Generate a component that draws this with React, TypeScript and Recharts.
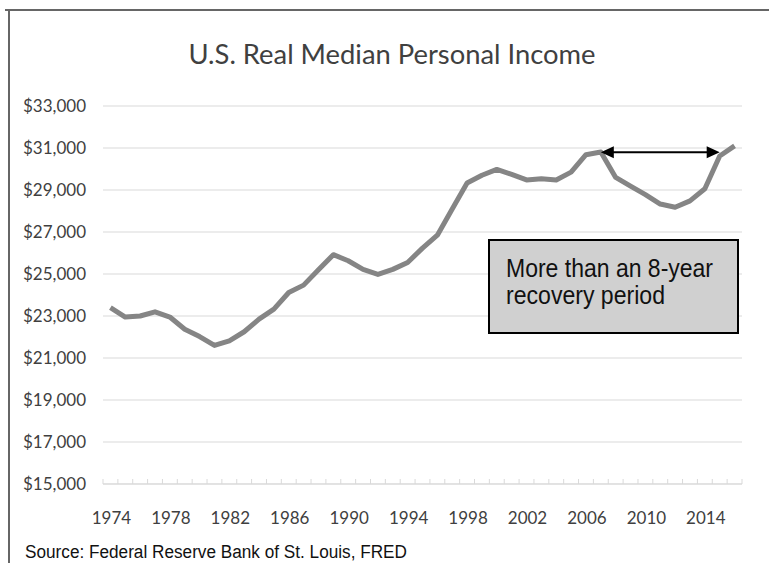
import { CartesianGrid, Line, LineChart, ReferenceLine, XAxis, YAxis } from "recharts"

const years = [
  1974, 1975, 1976, 1977, 1978, 1979, 1980, 1981, 1982, 1983, 1984, 1985, 1986, 1987, 1988,
  1989, 1990, 1991, 1992, 1993, 1994, 1995, 1996, 1997, 1998, 1999, 2000, 2001, 2002, 2003,
  2004, 2005, 2006, 2007, 2008, 2009, 2010, 2011, 2012, 2013, 2014, 2015, 2016,
]

const income = [
  23400, 22950, 23000, 23200, 22950, 22370, 22020, 21600, 21820, 22250, 22850, 23330, 24120,
  24470, 25200, 25920, 25630, 25220, 24980, 25220, 25550, 26230, 26850, 28100, 29330, 29700,
  29980, 29740, 29480, 29540, 29480, 29850, 30680, 30810, 29600, 29180, 28780, 28330, 28180,
  28480, 29060, 30620, 31100,
]

const yTicks = [15000, 17000, 19000, 21000, 23000, 25000, 27000, 29000, 31000, 33000]
const yearLabels = [1974, 1978, 1982, 1986, 1990, 1994, 1998, 2002, 2006, 2010, 2014]

// recovery arrow
const recoveryStart = 2007
const recoveryEnd = 2015
const recoveryLevel = 30800

const data = years.map((year, i) => ({ year, income: income[i] }))

const W = 769
const H = 563
const margin = { top: 106, right: 27, bottom: 49, left: 0 }
const yAxisWidth = 103
const plotW = W - margin.left - margin.right - yAxisWidth
const step = plotW / years.length

const font = "Lato, 'Open Sans', sans-serif"
const textColor = "#404040"

function YearTick(props: any) {
  const { x, y, payload, index } = props
  const year = payload.value
  const last = index === years.length - 1
  return (
    <g>
      <line x1={x - step / 2} x2={x - step / 2} y1={y - 5} y2={y} stroke="#d9d9d9" />
      {last && <line x1={x + step / 2} x2={x + step / 2} y1={y - 5} y2={y} stroke="#d9d9d9" />}
      {yearLabels.includes(year) && (
        <text x={x + 1} y={y + 40} textAnchor="middle" fontFamily={font} fontSize={17} fill={textColor}>
          {year}
        </text>
      )}
    </g>
  )
}

function ArrowShape(props: any) {
  const { x1, y1, x2, y2 } = props
  const len = 13
  const half = 6
  return (
    <g>
      <line x1={x1 + len - 2} y1={y1} x2={x2 - len + 2} y2={y2} stroke="#000" strokeWidth={2} />
      <polygon points={`${x1},${y1} ${x1 + len},${y1 - half} ${x1 + len},${y1 + half}`} fill="#000" />
      <polygon points={`${x2},${y2} ${x2 - len},${y2 - half} ${x2 - len},${y2 + half}`} fill="#000" />
    </g>
  )
}

export default function App() {
  return (
    <div style={{ position: "fixed", left: 0, top: 0, width: W, height: H, background: "#fff" }}>
      <LineChart width={W} height={H} data={data} margin={margin}>
        <CartesianGrid vertical={false} stroke="#d9d9d9" />
        <XAxis
          dataKey="year"
          type="number"
          domain={[years[0] - 0.5, years[years.length - 1] + 0.5]}
          ticks={years}
          interval={0}
          height={30}
          tickSize={0}
          tickMargin={0}
          tickLine={false}
          axisLine={{ stroke: "#d9d9d9" }}
          tick={<YearTick />}
        />
        <YAxis
          width={yAxisWidth}
          domain={[15000, 33000]}
          ticks={yTicks}
          interval={0}
          tickLine={false}
          axisLine={false}
          tickSize={0}
          tickMargin={17}
          tick={{ fontFamily: font, fontSize: 17, fill: textColor }}
          tickFormatter={(v: number) => `$${v.toLocaleString("en-US")}`}
        />
        <Line
          dataKey="income"
          type="linear"
          stroke="#858585"
          strokeWidth={5}
          strokeLinejoin="round"
          dot={false}
          activeDot={false}
          isAnimationActive={false}
        />
        <ReferenceLine
          segment={[
            { x: recoveryStart, y: recoveryLevel },
            { x: recoveryEnd, y: recoveryLevel },
          ]}
          shape={ArrowShape}
        />
      </LineChart>
      <svg
        width={W}
        height={H}
        style={{ position: "absolute", left: 0, top: 0, pointerEvents: "none" }}
      >
        <path d="M5 10 H769 M9 10 V563" stroke="#666" strokeWidth={2} fill="none" />
        <text
          x={392}
          y={64}
          textAnchor="middle"
          fontFamily={font}
          fontSize={27}
          fill={textColor}
          textLength={407}
          lengthAdjust="spacingAndGlyphs"
        >
          U.S. Real Median Personal Income
        </text>
        <rect x={489} y={240} width={249} height={93} fill="#d0d0d0" stroke="#000" strokeWidth={2} />
        <g fontFamily="'Liberation Sans Narrow', 'Liberation Sans', Arial, sans-serif" fontSize={25} fill="#111">
          <text x={506} y={277} textLength={207} lengthAdjust="spacingAndGlyphs">
            More than an 8-year
          </text>
          <text x={506} y={304} textLength={159} lengthAdjust="spacingAndGlyphs">
            recovery period
          </text>
        </g>
        <text
          x={25}
          y={558}
          fontFamily="'Liberation Sans Narrow', 'Liberation Sans', Arial, sans-serif"
          fontSize={18}
          fill="#111"
          textLength={382}
          lengthAdjust="spacingAndGlyphs"
        >
          Source: Federal Reserve Bank of St. Louis, FRED
        </text>
      </svg>
    </div>
  )
}
